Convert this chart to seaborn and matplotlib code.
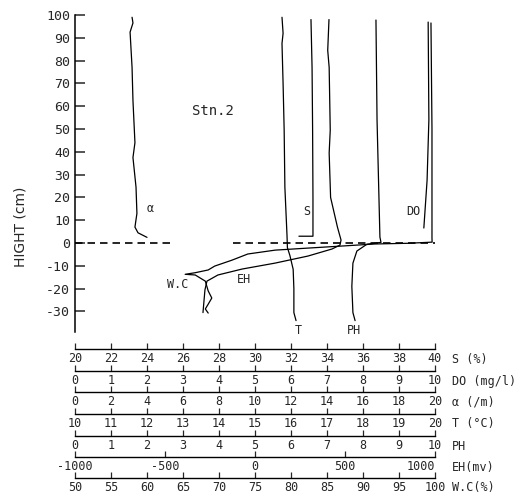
import numpy as np
import pandas as pd
import seaborn as sns
from matplotlib import pyplot as plt

# profile readings: height (cm) and value in the unit of each scale
alpha_h = [99, 96.5, 92.5, 77, 62.5, 44, 37.5, 24.5, 13, 7, 4.5, 2.5]
alpha_v = [3.17, 3.22, 3.06, 3.17, 3.22, 3.33, 3.22, 3.39, 3.44, 3.33, 3.5, 4.0]

s_h = [98, 77, 50, 20, 4.5, 3, 3]
s_v = [33.11, 33.17, 33.2, 33.22, 33.22, 33.22, 32.44]

t_h = [99, 92, 87.5, 70, 49.5, 24.5, 3, -2, -5.5, -11.5, -20, -30.5, -34]
t_v = [15.75, 15.78, 15.75, 15.78, 15.81, 15.83, 15.89, 15.9, 15.97, 16.06,
       16.08, 16.08, 16.14]

eh_h = [98, 84.5, 77, 49.5, 39.5, 20, 7, 1.3, -0.9, -2.6, -5.7, -8.8, -11.4,
        -14, -16.7, -20.5, -25, -30.5]
eh_v = [411, 404, 412, 418, 412, 420, 458, 478, 472, 428, 294, 111, -72,
        -206, -267, -278, -283, -289]

ph_h = [97.8, 54, 2.6, 0.3, -0.5, -3.5, -8.8, -19, -30.5, -34]
ph_v = [8.36, 8.39, 8.47, 8.5, 8.11, 7.83, 7.72, 7.69, 7.72, 7.78]

do_h = [96.9, 54, 27.5, 6.6]
do_v = [9.81, 9.83, 9.78, 9.69]

wc_h = [96.5, 50, 2.2, 0.4, -0.1, -0.4, -1.3, -2.2, -3.1, -4.8, -7.5, -10.1,
        -11.8, -13.0, -13.7, -14.0, -16.7, -21, -24.1, -26.8, -28.9, -30.7]
wc_v = [99.44, 99.58, 99.58, 99.6, 96.25, 91.7, 87.1, 82.4, 77.8, 74.0, 71.8,
        69.4, 68.5, 66.7, 65.3, 66.7, 68.1, 68.5, 69.0, 68.5, 68.1, 68.5]

# scales drawn under the chart (top to bottom)
scale_names = ['S', 'DO', 'alpha', 'T', 'PH', 'EH', 'WC']
scale_lo = [20, 0, 0, 10, 0, -1000, 50]
scale_hi = [40, 10, 20, 20, 10, 1000, 100]
scale_step = [2, 1, 2, 1, 1, 500, 5]
scale_units = ['S (%)', 'DO (mg/l)', 'α (/m)', 'T (°C)', 'PH', 'EH(mv)', 'W.C(%)']

height_ticks = [100, 90, 80, 70, 60, 50, 40, 30, 20, 10, 0, -10, -20, -30]

profiles = {
    'alpha': (alpha_h, alpha_v),
    'S': (s_h, s_v),
    'T': (t_h, t_v),
    'EH': (eh_h, eh_v),
    'PH': (ph_h, ph_v),
    'DO': (do_h, do_v),
    'WC': (wc_h, wc_v),
}

labels = [('Stn.2', 0.325, 58), ('α', 0.2, 15), ('S', 0.635, 14),
          ('DO', 0.92, 14), ('W.C', 0.255, -18), ('EH', 0.45, -16),
          ('T', 0.61, -38.5), ('PH', 0.755, -38.5)]

sns.set_style('white')
plt.rcParams['font.family'] = ['DejaVu Sans Mono']
plt.rcParams['axes.unicode_minus'] = False

W, H = 529, 499
fig = plt.figure(figsize=(W / 100, H / 100), dpi=100)
left, right = 75, 435
ax = fig.add_axes([left / W, 1 - 332 / H, (right - left) / W, (332 - 15) / H])

lims = dict(zip(scale_names, zip(scale_lo, scale_hi)))
for name, (hs, vs) in profiles.items():
    lo, hi = lims[name]
    df = pd.DataFrame({'h': hs, 'v': vs})
    df['pos'] = (df['v'] - lo) / (hi - lo)
    sns.lineplot(data=df, x='pos', y='h', sort=False, estimator=None,
                 color='black', lw=0.9, ax=ax)

ax.plot([0, 0.27], [0, 0], color='black', lw=1.2, dashes=(4.5, 3))
ax.plot([0.44, 1.0], [0, 0], color='black', lw=1.2, dashes=(4.5, 3))

for txt, x, y in labels:
    ax.text(x, y, txt, fontsize=10 if txt == 'Stn.2' else 8.5, va='center')

ax.set_xlim(0, 1)
ax.set_ylim(-39, 100)
ax.set_yticks(height_ticks)
ax.set_yticklabels([str(t) for t in height_ticks], fontsize=9.5)
ax.set_xticks([])
ax.tick_params(axis='y', direction='in', length=7.5, width=1.1, pad=3.5,
               left=True)
for side in ['top', 'right', 'bottom']:
    ax.spines[side].set_visible(False)
ax.spines['left'].set_linewidth(1.1)
ax.spines['left'].set_color('black')
ax.set(xlabel='', ylabel='')
ax.patch.set_alpha(0)

fig.text(21 / W, 1 - 227 / H, 'HIGHT (cm)', rotation=90, ha='center',
         va='center', fontsize=10, family='DejaVu Sans')

line_y = [349, 371, 392, 414, 436, 457, 478]
for i, name in enumerate(scale_names):
    sax = fig.add_axes([left / W, 1 - line_y[i] / H, (right - left) / W, 0.0005])
    sax.set_xlim(scale_lo[i], scale_hi[i])
    ticks = np.arange(scale_lo[i], scale_hi[i] + scale_step[i], scale_step[i])
    sax.set_xticks(ticks)
    sax.set_xticklabels([str(int(t)) for t in ticks], fontsize=8.5)
    sax.set_yticks([])
    sax.tick_params(axis='x', direction='in', length=4, width=0.9, pad=2.5,
                    bottom=True)
    for side in ['top', 'right', 'left']:
        sax.spines[side].set_visible(False)
    sax.spines['bottom'].set_color('black')
    sax.spines['bottom'].set_linewidth(1.0)
    sax.patch.set_alpha(0)
    if name == 'EH':
        # the end label sits a little left of its tick in the original
        sax.get_xticklabels()[-1].set_horizontalalignment('right')
        sax.get_xticklabels()[-1].set_x(scale_hi[i])
    fig.text(452 / W, 1 - (line_y[i] + 10) / H, scale_units[i],
             fontsize=8.5, va='center', ha='left')

fig.savefig('out.png', dpi=100)
plt.close(fig)
